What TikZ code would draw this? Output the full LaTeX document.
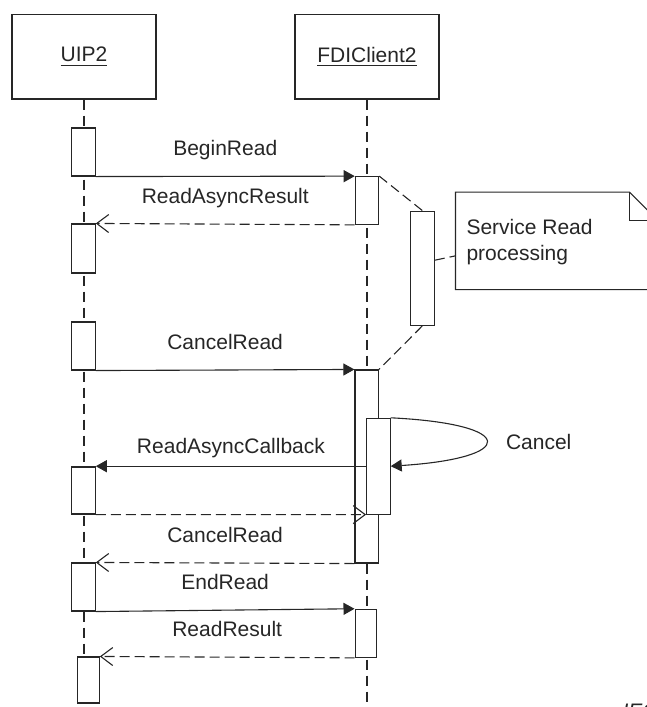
\documentclass[tikz,border=0pt]{standalone}
\usepackage{fontspec}
\setmainfont{Liberation Sans}
\usetikzlibrary{arrows.meta,positioning}

\begin{document}
\begin{tikzpicture}[
    x=0.5pt, y=-0.5pt,
    font=\fontsize{10.5}{13}\selectfont,
    line width=0.55pt,
    color=black!85,
    obj/.style={draw, minimum width=72pt, minimum height=42.25pt, inner sep=0pt},
    act/.style={draw, fill=white, minimum width=11.75pt, inner sep=0pt},
    lifeline/.style={dash pattern=on 5pt off 3pt},
    call/.style={-{Triangle[length=5.5pt,width=6pt]}},
    reply/.style={-{Straight Barb[length=6pt,width=9pt]}, dash pattern=on 5pt off 2.5pt},
    link/.style={dash pattern=on 5pt off 2.5pt},
    msg/.style={inner sep=0pt, text height=7.5pt, text depth=0pt},
  ]
    \useasboundingbox (0,0) rectangle (647,707);

    % --- objects and lifelines ---
    \node[obj] (uip) at (84,56.7) {\underline{UIP2}};
    \node[obj] (fdi) at (367,56.7) {\underline{FDIClient2}};
    \coordinate (bot) at (0,712);
    \draw[lifeline] (uip.south) -- (uip.south |- bot);
    \draw[lifeline] (fdi.south) -- (fdi.south |- bot);

    % --- activations on UIP2 ---
    \node[act, minimum height=24pt]   (a1) at (83.5,152) {};
    \node[act, minimum height=24.5pt] (a2) at (83.5,248.5) {};
    \node[act, minimum height=24pt]   (a3) at (83.5,346) {};
    \node[act, minimum height=23.5pt] (a4) at (83.5,490.5) {};
    \node[act, minimum height=24pt]   (a5) at (83.5,587) {};
    \node[act, minimum height=23pt, minimum width=11pt] (a6) at (88.3,680) {};

    % --- activations on FDIClient2 ---
    \node[act, minimum height=23.8pt]  (f1) at (367,200.5) {};
    \node[act, minimum height=96.5pt]  (f2) at (366.7,466.5) {};
    \node[act, minimum height=47.85pt] (f3) at (378.4,466.2) {};
    \node[act, minimum height=24pt, minimum width=10.85pt] (f4) at (365.9,633.3) {};

    % --- service read processing + note ---
    \node[act, minimum height=57.15pt, minimum width=12pt] (s1) at (422.3,268.2) {};
    \draw[link] (f1.north east) -- (s1.north);
    \draw[link] (s1.south) -- (f2.north east);
    \node[minimum width=100.5pt, minimum height=48.15pt, inner sep=0pt] (note) at (556.5,240.85) {};
    \draw[fill=white] (note.north west) -- ([xshift=-14pt]note.north east)
      -- ([yshift=-14pt]note.north east) -- (note.south east) -- (note.south west) -- cycle;
    \draw ([xshift=-14pt]note.north east) |- ([yshift=-14pt]note.north east);
    \node[anchor=west, align=left, inner sep=0pt] (notetext) at (466,242) {Service Read\\processing};
    \draw[link] ([yshift=4pt]s1.east) -- ([yshift=-7.5pt]note.west);

    % --- messages ---
    \draw[call] (a1.south east) -- node[msg, above=10pt] (lbegin) {BeginRead} (f1.north west);
    \draw[reply] (f1.south west) -- node[msg, above=10pt] (lasync) {ReadAsyncResult} (a2.north east);
    \draw[call] (a3.south east) -- node[msg, above=10pt] (lcancel) {CancelRead} (f2.north west);
    \draw[call] (f3.north east) .. controls (518,424) and (518,458) .. (f3.east);
    \node[msg] (lself) at (538.7,441.7) {Cancel};
    \draw[call] (f3.west) -- node[msg, above=6pt] (lcallback) {ReadAsyncCallback} (f3.west -| a4.east);
    \draw[reply] (a4.south east) -- (f3.south west);
    \draw[reply] (f2.south west) -- node[msg, above=10pt] (lcancelret) {CancelRead} (a5.north east);
    \draw[call] (a5.south east) -- node[msg, above=10pt] (lend) {EndRead} (f4.north west);
    \draw[reply] (f4.south west) -- node[msg, above=10pt] (lresult) {ReadResult} (a6.north east);

    \node[msg, anchor=north west, font=\fontsize{10.5}{13}\selectfont\itshape] (iec) at (622,703) {IEC};
  \end{tikzpicture}
\end{document}
